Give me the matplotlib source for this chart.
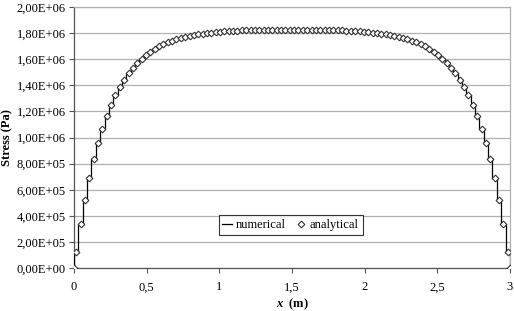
import numpy as np
from matplotlib import pyplot as plt

# cell edges of the numerical mesh (m)
edges = [round(0.03 * i, 2) for i in range(101)]

# stress read at the cell centres, left half then right half (x1e5 Pa)
left_half = [1.20, 3.36, 5.24, 6.89, 8.33, 9.59, 10.69, 11.65, 12.49, 13.23,
             13.87, 14.43, 14.92, 15.34, 15.72, 16.04, 16.33, 16.58, 16.80, 16.99,
             17.15, 17.30, 17.42, 17.53, 17.63, 17.71, 17.79, 17.85, 17.91, 17.96,
             18.00, 18.04, 18.07, 18.10, 18.13, 18.15, 18.17, 18.18, 18.20, 18.21,
             18.22, 18.23, 18.24, 18.25, 18.25, 18.26, 18.26, 18.26, 18.26, 18.26]
right_half = [18.26, 18.26, 18.26, 18.26, 18.26, 18.25, 18.25, 18.24, 18.23, 18.22,
              18.21, 18.20, 18.18, 18.17, 18.15, 18.13, 18.10, 18.07, 18.04, 18.00,
              17.96, 17.91, 17.85, 17.79, 17.71, 17.63, 17.53, 17.42, 17.30, 17.15,
              16.99, 16.80, 16.58, 16.33, 16.04, 15.72, 15.34, 14.92, 14.43, 13.87,
              13.23, 12.49, 11.65, 10.69, 9.59, 8.33, 6.89, 5.24, 3.36, 1.20]
numerical = np.array(left_half + right_half) * 1e5

# analytical points: both ends plus the cell centres
x_analytical = [0.0] + [round(0.015 + 0.03 * i, 3) for i in range(100)] + [3.0]
analytical = [0.0] + list(numerical) + [0.0]

yticks = [0, 2e5, 4e5, 6e5, 8e5, 1e6, 1.2e6, 1.4e6, 1.6e6, 1.8e6, 2e6]
xticks = [0, 0.5, 1, 1.5, 2, 2.5, 3]
xticklabels = ['0', '0,5', '1', '1,5', '2', '2,5', '3']

plt.rcParams['font.family'] = 'Liberation Serif'
plt.rcParams['font.size'] = 9
plt.rcParams['mathtext.fontset'] = 'custom'
plt.rcParams['mathtext.it'] = 'Liberation Serif:italic:bold'

fig = plt.figure(figsize=(5.14, 3.11), dpi=100)
ax = fig.add_axes([0.144, 0.138, 0.848, 0.8395])

ax.stairs(numerical, edges, baseline=0, color='black', linewidth=0.9, label='numerical', zorder=3)
ax.plot(x_analytical, analytical, linestyle='none', marker='D', markersize=3.4,
        markerfacecolor='white', markeredgecolor='#333333', markeredgewidth=0.8,
        label='analytical', zorder=4)

ax.set_xlim(0, 3)
ax.set_ylim(0, 2e6)
ax.set_xticks(xticks)
ax.set_xticklabels(xticklabels)
ax.set_yticks(yticks)
ax.set_yticklabels([('%.2E' % v).replace('.', ',') for v in yticks])

ax.grid(True, axis='y', color='#b0b0b0', linewidth=0.9)
ax.set_axisbelow(True)
for side in ['top', 'right']:
    ax.spines[side].set_color('#b0b0b0')
    ax.spines[side].set_linewidth(0.9)
for side in ['left', 'bottom']:
    ax.spines[side].set_color('#555555')
    ax.spines[side].set_linewidth(0.9)
ax.tick_params(direction='out', length=3.5, width=0.8, color='#555555')
ax.tick_params(axis='x', pad=6)
ax.tick_params(axis='y', pad=2.5)

ax.set_ylabel('Stress (Pa)', fontweight='bold', va='center')
ax.yaxis.set_label_coords(-0.152, 0.5)
ax.set_xlabel(r'$\mathit{x}$  (m)', fontweight='bold', va='center')
ax.xaxis.set_label_coords(0.5, -0.14)

leg = ax.legend(loc='center', bbox_to_anchor=(0.497, 0.165), ncol=2, frameon=True,
                fancybox=False, edgecolor='black', handlelength=0.75, columnspacing=0.9,
                handletextpad=0.3, borderpad=0.3, borderaxespad=0, numpoints=1)
leg.get_frame().set_linewidth(0.8)

plt.savefig('out.png', dpi=100)
